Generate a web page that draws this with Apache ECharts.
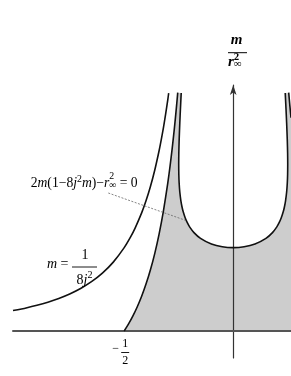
<!DOCTYPE html>
<html><head><meta charset="utf-8">
<script src="https://cdn.jsdelivr.net/npm/echarts@6/dist/echarts.min.js"></script>
<style>html,body{margin:0;padding:0;background:#fff}#c{width:291px;height:376px}</style>
</head><body><div id="c"></div>
<script>
// x: j ,  y: m / r∞²
const hyperJ = [-1.01,-0.95,-0.9,-0.85,-0.8,-0.75,-0.7,-0.65,-0.6,-0.55,-0.5,-0.47,-0.45,-0.42,-0.4,-0.38,-0.36,-0.34,-0.33,-0.32,-0.31,-0.30,-0.296];
const hyperM = [0.1225,0.1385,0.1543,0.1730,0.1953,0.2222,0.2551,0.2959,0.3472,0.4132,0.5,0.5659,0.6173,0.7086,0.7813,0.8657,0.9645,1.0813,1.1478,1.2207,1.3007,1.3889,1.4267];

const boundJ = [-0.5,-0.48,-0.46,-0.44,-0.42,-0.40,-0.38,-0.36,-0.34,-0.32,-0.30,-0.29,-0.28,-0.27,-0.265,-0.26,-0.2545];
const boundM = [0,0.0425,0.0907,0.1457,0.2086,0.2813,0.3657,0.4645,0.5813,0.7207,0.8889,0.9863,1.0944,1.2147,1.28,1.3491,1.4299];

const uJ = [-0.2385,-0.24,-0.242,-0.245,-0.248,-0.2495,-0.25,-0.2495,-0.248,-0.245,-0.24,-0.235,-0.23,-0.22,-0.21,-0.2,-0.18,-0.15,-0.1,-0.05,0,
            0.05,0.1,0.15,0.18,0.2,0.21,0.22,0.23,0.235,0.24,0.245,0.248,0.2495,0.25,0.2495,0.248,0.245,0.242,0.24,0.2385];
const uM = [1.4282,1.3889,1.335,1.2484,1.1444,1.0675,1.0,0.9406,0.888,0.834,0.7813,0.7456,0.7184,0.678,0.6483,0.625,0.5903,0.5556,0.5218,0.5051,0.5,
            0.5051,0.5218,0.5556,0.5903,0.625,0.6483,0.678,0.7184,0.7456,0.7813,0.834,0.888,0.9406,1.0,1.0675,1.1444,1.2484,1.335,1.3889,1.4282];

const rightBoundJ = [0.2545,0.26,0.265];
const rightBoundM = [1.4299,1.3491,1.28];

const leaderJ = [-0.573,-0.221];
const leaderM = [0.828,0.665];

const tickJ = [-0.5];
const tickNum = ['1'];
const tickDen = ['2'];

const pairs = (a,b)=>a.map((v,i)=>[v,b[i]]);
const fillData = pairs(boundJ,boundM).concat(pairs(uJ,uM)).concat(pairs(rightBoundJ,rightBoundM));

const chart = echarts.init(document.getElementById('c'), null, {renderer:'canvas'});
const curve = (data)=>({type:'line',data,symbol:'none',smooth:0.2,silent:true,z:4,
  lineStyle:{color:'#111',width:1.6}});
chart.setOption({
  animation:false,
  grid:{left:13,right:0,top:85,bottom:18},
  xAxis:{type:'value',min:-1.01,max:0.265,z:3,
    axisLine:{show:true,onZero:true,lineStyle:{color:'#555',width:2}},
    axisTick:{show:false},axisLabel:{show:false},splitLine:{show:false}},
  yAxis:{type:'value',min:-0.162,max:1.476,z:3,
    axisLine:{show:true,onZero:true,symbol:['none','arrow'],symbolSize:[5,10],lineStyle:{color:'#333',width:1.2}},
    axisTick:{show:false},axisLabel:{show:false},splitLine:{show:false}},
  series:[
    {type:'line',data:fillData,symbol:'none',silent:true,z:1,
     lineStyle:{width:0,opacity:0},areaStyle:{color:'#cdcdcd',opacity:1}},
    curve(pairs(hyperJ,hyperM)),
    curve(pairs(boundJ,boundM)),
    curve(pairs(uJ,uM)),
    curve(pairs(rightBoundJ,rightBoundM)),
    {type:'line',data:pairs(leaderJ,leaderM),symbol:'none',silent:true,z:4,
     lineStyle:{color:'#666',width:0.8,type:[2,1.5]}}
  ]
});

// ---- math text helpers ----
const FAM = '"Liberation Serif","Times New Roman",serif';
const mctx = document.createElement('canvas').getContext('2d');
function font(p,sz){return (p.i?'italic ':'')+(p.b?'bold ':'')+sz.toFixed(2)+'px '+FAM;}
function tw(t,f){mctx.font=f;return mctx.measureText(t).width;}
function psz(p,S){return S*(p.s||((p.sup||p.sub)?0.72:1));}
function pdy(p,S){return S*(p.dy!==undefined?p.dy:(p.sup?-0.42:(p.sub?0.12:0)));}
function rowWidth(pieces,S){let x=0;for(const p of pieces){
  if(p.stack){x+=Math.max(...p.stack.map(q=>tw(q.t,font(q,psz(q,S)))));}
  else x+=tw(p.t,font(p,psz(p,S)));}return x;}
function row(pieces,left,base,S){
  const els=[];let x=left;
  const add=(p)=>{const sz=psz(p,S);const f=font(p,sz);
    els.push({type:'text',x:x,y:base+pdy(p,S)-0.3375*sz,silent:true,z:10,
      style:{text:p.t,font:f,fill:'#000',align:'left',verticalAlign:'middle'}});
    return tw(p.t,f);};
  for(const p of pieces){
    if(p.stack){let mx=0;for(const q of p.stack){mx=Math.max(mx,add(q));}x+=mx;}
    else x+=add(p);}
  return els;}
function hline(x1,x2,y,w){return {type:'line',silent:true,z:10,shape:{x1,y1:y,x2,y2:y},style:{stroke:'#000',lineWidth:w||0.9}};}

const g=[];
// 2m(1−8j²m)−r∞² = 0
const lab1=[{t:'2'},{t:'m',i:1},{t:'(1−8'},{t:'j',i:1},{t:'2',sup:1},{t:'m',i:1},{t:')−'},{t:'r',i:1},
  {stack:[{t:'∞',sub:1,dy:0.04},{t:'2',sup:1,dy:-0.66}]},{t:' = 0'}];
let S1=13; S1=S1*(107/rowWidth(lab1,S1));
g.push(...row(lab1,30.7,188.3,S1));

// m = 1/(8j²)
g.push(...row([{t:'m',i:1},{t:' ='}],47,269.3,14));
g.push(hline(72,97,267,0.9));
g.push(...row([{t:'1'}],85-tw('1',font({},14))/2,260,14));
const den=[{t:'8'},{t:'j',i:1},{t:'2',sup:1}];
g.push(...row(den,84.5-rowWidth(den,14)/2,285,14));

// axis label m / r∞²
const yl=[{t:'m',i:1,b:1}];
g.push(...row(yl,236.5-rowWidth(yl,15)/2,45,15));
g.push(hline(228,247,52.7,1));
g.push(...row([{t:'r',i:1,b:1},{stack:[{t:'∞',sub:1,b:1,dy:0.06},{t:'2',sup:1,b:1,dy:-0.4}]}],228,67,15));

// tick label −1/2
tickJ.forEach((j,k)=>{
  const p=chart.convertToPixel({gridIndex:0},[j,0]);
  const cx=p[0]+1, S=12;
  g.push(...row([{t:'−'}],cx-13,p[1]+22,S));
  g.push(...row([{t:tickNum[k]}],cx-tw(tickNum[k],font({},S))/2,p[1]+17,S));
  g.push(hline(cx-4,cx+4,p[1]+21.5,0.9));
  g.push(...row([{t:tickDen[k]}],cx-tw(tickDen[k],font({},S))/2,p[1]+34,S));
});
chart.setOption({graphic:g});
</script></body></html>
